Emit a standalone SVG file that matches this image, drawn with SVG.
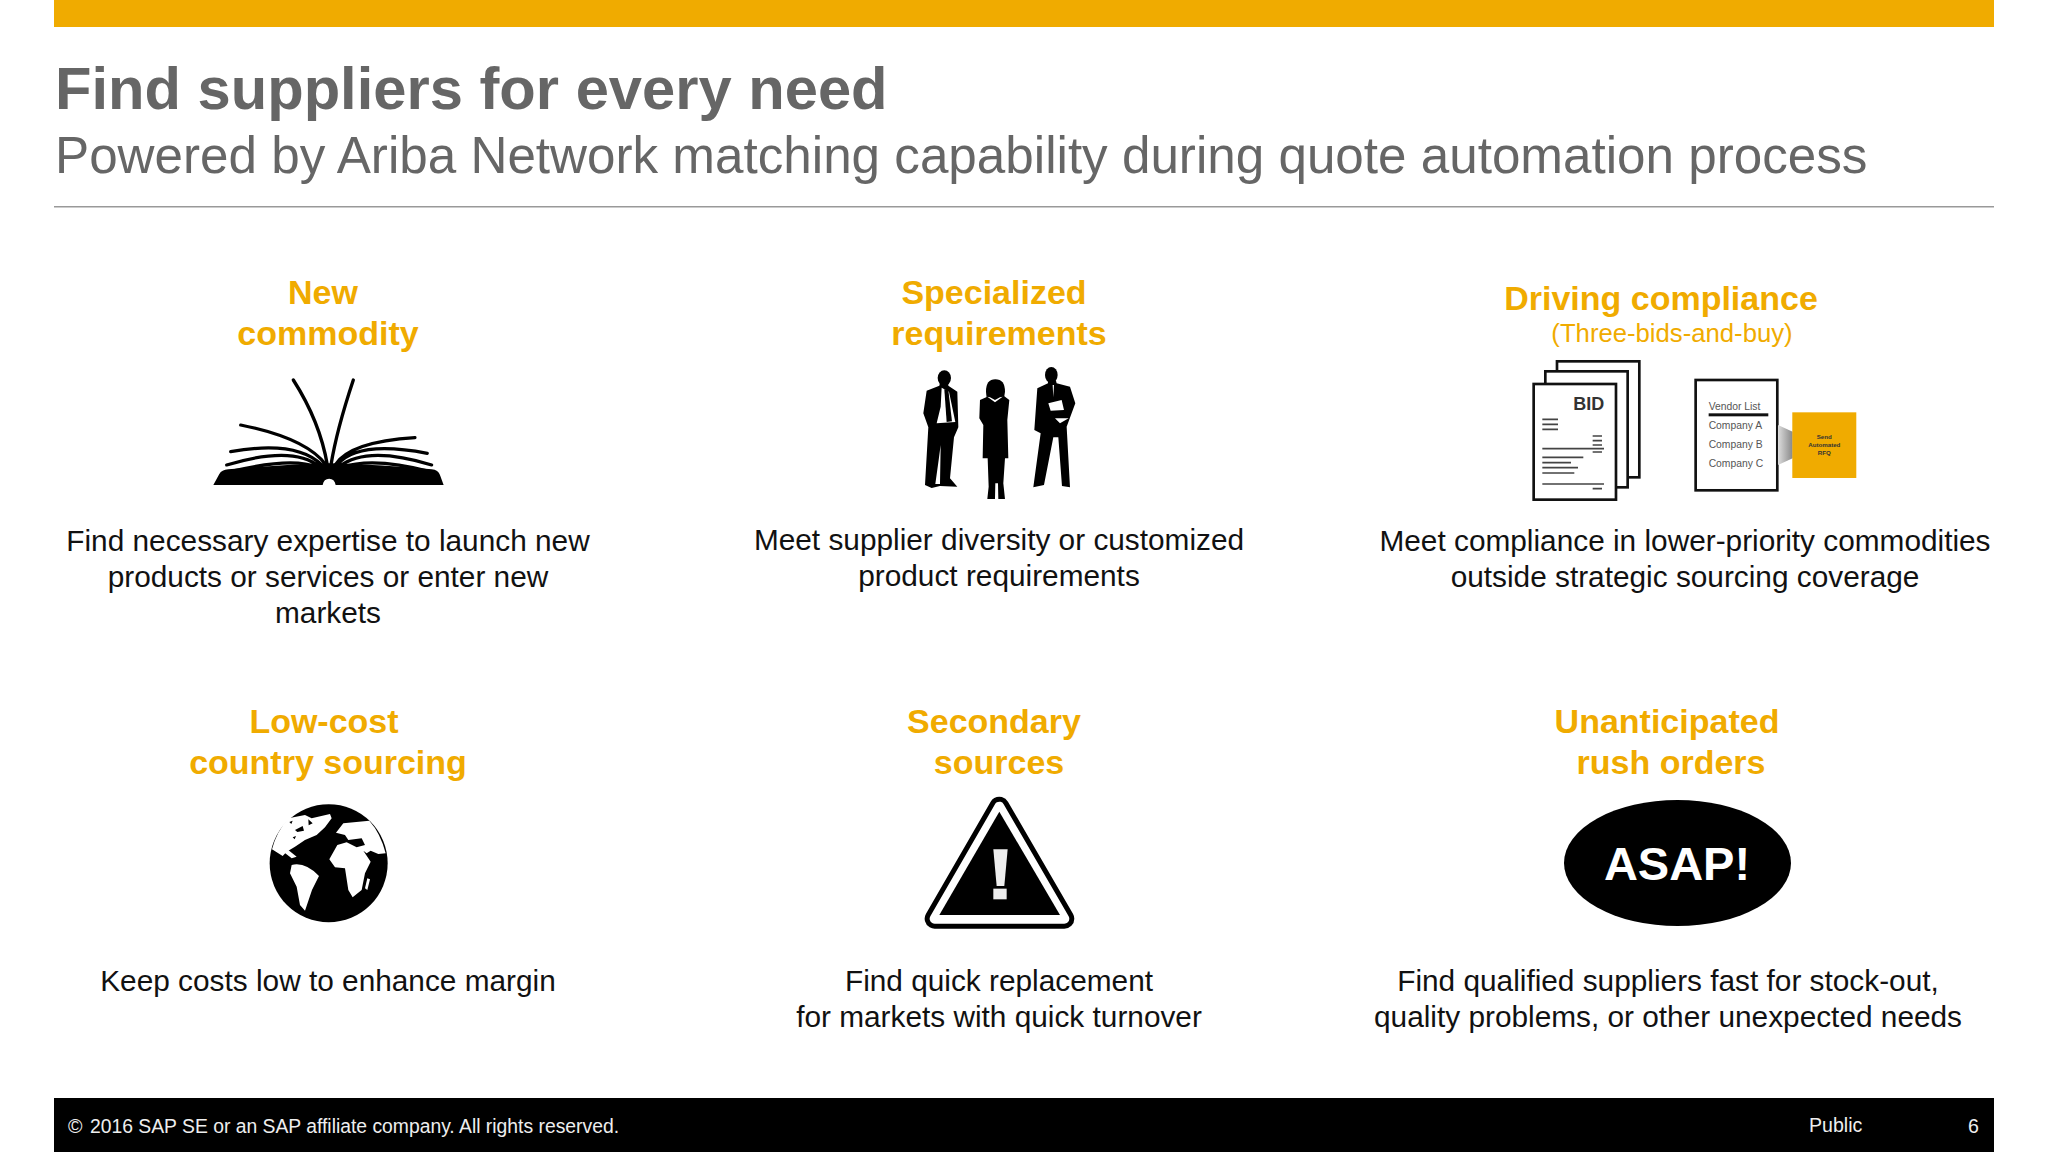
<svg xmlns="http://www.w3.org/2000/svg" width="2048" height="1152" viewBox="0 0 2048 1152">
<style>
text{font-family:"Liberation Sans",Arial,sans-serif}
.h{font-size:34px;font-weight:700;fill:#f0ab00;text-anchor:middle}
.b{font-size:29.8px;fill:#111;text-anchor:middle}
.p{fill:none;stroke:#000;stroke-linecap:round}
.v{font-size:31px;fill:#555}
.f{font-size:19.6px;fill:#eee}
</style>
<defs><linearGradient id="fade"><stop offset="0" stop-color="#ddd"/><stop offset="1" stop-color="#888"/></linearGradient></defs>
<rect width="2048" height="1152" fill="#fff"/>
<rect x="54" y="0" width="1940" height="27" fill="#f0ab00"/>
<text x="55" y="109" font-size="59.7" font-weight="700" fill="#666">Find suppliers for every need</text>
<text x="55" y="173" font-size="51.2" fill="#666">Powered by Ariba Network matching capability during quote automation process</text>
<rect x="54" y="206" width="1940" height="1.5" fill="#999"/>

<g id="new-commodity">
<text class="h" x="323" y="304">New</text><text class="h" x="328" y="345">commodity</text>
<g transform="translate(180,350) scale(.3333)">
<path d="M100,405 L118,372 Q125,360 145,358 Q300,345 440,340 L455,340 Q610,345 755,358 Q775,360 780,375 L791,405 L467,405 A20,24 0 0 0 428,405 Z" fill="#000"/>
<path class="p" stroke-width="10" d="M340,90 Q420,215 442,345M520,90 Q470,240 453,345"/>
<path class="p" stroke-width="9.5" d="M182,225 Q380,265 438,345M152,305 Q350,270 425,345M140,345 Q340,285 418,350M150,365 Q340,320 410,352M705,263 Q510,275 465,345M742,310 Q530,270 472,345M755,345 Q560,285 478,350M750,365 Q580,320 485,352"/>
</g>
<text class="b" x="328" y="551">Find necessary expertise to launch new</text>
<text class="b" x="328" y="587">products or services or enter new</text>
<text class="b" x="328" y="623">markets</text>
</g>

<g id="specialized-requirements">
<text class="h" x="994" y="304">Specialized</text><text class="h" x="999" y="345">requirements</text>
<g transform="translate(890,350) scale(.3333)">
<ellipse cx="163" cy="84" rx="20" ry="23"/>
<path d="M150,98 L148,107 L110,122 L100,190 L115,232 L105,405 L125,414 L150,408 L202,410 L180,385 L192,262 L205,232 L202,125 L175,107 L175,98 Z"/>
<path d="M155,113 L177,125 L196,216 L140,220 L152,170 Z" fill="#fff"/>
<path d="M163,118 L175,120 L186,214 L170,216 Z"/>
<path d="M152,285 L146,330 L136,402 L150,402 Z" fill="#fff"/>
<path d="M316,88 Q345,88 345,125 L342,145 L290,145 L288,125 Q288,88 316,88 Z"/>
<path d="M292,140 L270,150 L268,205 L280,225 L278,325 L293,325 L296,410 L292,447 L315,447 L316,400 L324,400 L325,447 L345,447 L340,400 L345,325 L355,325 L352,210 L358,150 L338,135 Z"/>
<path d="M292,140 L315,157 L338,140 L330,142 L315,150 L300,142 Z" fill="#fff"/>
<ellipse cx="484" cy="75" rx="19" ry="24"/>
<path d="M474,92 L474,100 L442,115 L433,240 L452,250 L430,412 L462,405 L490,262 L505,262 L516,408 L540,412 L530,230 L556,160 L540,110 L500,100 L498,92 Z"/>
<path d="M475,160 L515,150 L522,180 L482,182 Z M495,205 L536,205 L510,220 Z M488,105 L492,105 L490,142 Z" fill="#fff"/>
</g>
<text class="b" x="999" y="550">Meet supplier diversity or customized</text>
<text class="b" x="999" y="586">product requirements</text>
</g>

<g id="driving-compliance">
<text class="h" x="1661" y="310">Driving compliance</text>
<text x="1672" y="342" font-size="25.7" fill="#f0ab00" text-anchor="middle">(Three-bids-and-buy)</text>
<g transform="translate(1510,350) scale(.3333)">
<g fill="#fff" stroke="#111" stroke-width="8">
<rect x="141" y="34" width="247" height="348"/>
<rect x="106" y="64" width="247" height="348"/>
<rect x="71" y="102" width="247" height="347"/>
<rect x="557" y="90" width="245" height="331"/>
</g>
<text x="190" y="181" font-size="54" font-weight="700" fill="#333">BID</text>
<path d="M97,208H144M97,223H144M97,238H144M248,258H276M248,272H276M248,285H276M97,296H282M248,306H276M97,322H220M97,338H183M97,353H204M97,369H193M97,402H282M248,416H276" stroke="#444" stroke-width="5" fill="none"/>
<text class="v" x="596" y="180">Vendor List</text>
<rect x="596" y="190" width="179" height="9" fill="#111"/>
<text class="v" x="596" y="237">Company A</text>
<text class="v" x="596" y="294">Company B</text>
<text class="v" x="596" y="351">Company C</text>
<path d="M804,225 L848,245 L848,325 L804,345 Z" fill="url(#fade)"/>
<rect x="847" y="187" width="192" height="197" fill="#f0ab00"/>
<g font-size="18.5" font-weight="700" fill="#333" text-anchor="middle">
<text x="943" y="268">Send</text><text x="943" y="291">Automated</text><text x="943" y="314">RFQ</text>
</g>
</g>
<text class="b" x="1685" y="551">Meet compliance in lower-priority commodities</text>
<text class="b" x="1685" y="587">outside strategic sourcing coverage</text>
</g>

<g id="low-cost">
<text class="h" x="324" y="733">Low-cost</text><text class="h" x="328" y="774">country sourcing</text>
<g transform="translate(250,790) scale(.3333)">
<circle cx="236" cy="220" r="177"/>
<path d="M66,178 Q80,125 115,85 L165,75 L185,85 L240,72 L245,85 L225,112 L200,135 L165,150 L135,170 L110,185 L98,198 Z" fill="#fff"/>
<path d="M135,120 L158,108 L162,122 L142,126 Z M118,96 L128,92 L124,102 Z M175,88 L188,100 L176,106 Z M128,142 L138,138 L134,148 Z" fill="#000"/>
<path d="M100,185 L125,205 L140,200 L112,178 Z" fill="#fff"/>
<path d="M258,128 L280,100 L358,92 Q392,130 407,190 L385,192 L362,182 L350,190 L340,182 L362,215 L345,250 L335,300 L308,322 L295,300 L285,235 L255,232 L238,208 L262,165 L290,157 L320,172 L345,165 L335,145 L295,150 L285,135 Z" fill="#fff"/>
<path d="M125,225 Q165,215 207,258 L186,300 L165,362 L150,345 L140,290 L120,250 Z" fill="#fff"/>
<path d="M352,265 L360,268 L352,300 L345,295 Z" fill="#fff"/>
</g>
<text class="b" x="328" y="991">Keep costs low to enhance margin</text>
</g>

<g id="secondary-sources">
<text class="h" x="994" y="733">Secondary</text><text class="h" x="999" y="774">sources</text>
<g transform="translate(910,780) scale(.3333)">
<path d="M268,80 L74,416 L463,416 Z" fill="#fff" stroke="#000" stroke-width="60" stroke-linejoin="round"/>
<path d="M268,80 L74,416 L463,416 Z" fill="#fff" stroke="#fff" stroke-width="30" stroke-linejoin="round"/>
<path d="M268,95 L88,405 L450,405 Z"/>
<path d="M250,208 H293 L283,318 H260 Z" fill="#eee"/>
<rect x="250" y="326" width="40" height="32" fill="#eee"/>
</g>
<text class="b" x="999" y="991">Find quick replacement</text>
<text class="b" x="999" y="1027">for markets with quick turnover</text>
</g>

<g id="unanticipated">
<text class="h" x="1667" y="733">Unanticipated</text><text class="h" x="1671" y="774">rush orders</text>
<ellipse cx="1677.5" cy="863" rx="113.500" ry="63"/>
<text x="1677" y="880" font-size="47" font-weight="700" fill="#fff" text-anchor="middle">ASAP!</text>
<text class="b" x="1668" y="991">Find qualified suppliers fast for stock-out,</text>
<text class="b" x="1668" y="1027">quality problems, or other unexpected needs</text>
</g>

<rect x="54" y="1098" width="1940" height="54" fill="#000"/>
<text class="f" x="68" y="1133">©<tspan x="90" textLength="529" lengthAdjust="spacingAndGlyphs">2016 SAP SE or an SAP affiliate company. All rights reserved.</tspan></text>
<text class="f" x="1809" y="1132">Public</text>
<text class="f" x="1968" y="1133">6</text>
</svg>
